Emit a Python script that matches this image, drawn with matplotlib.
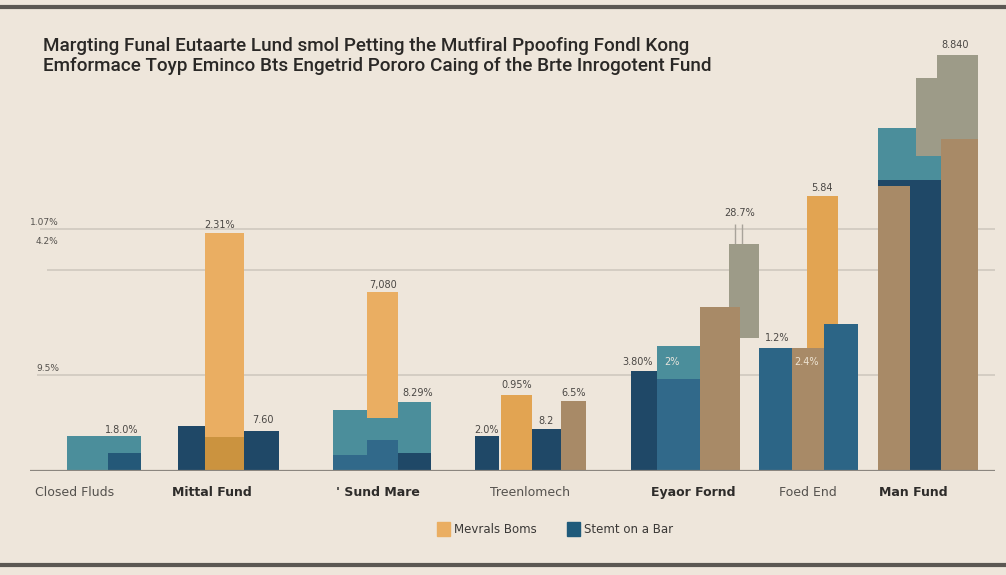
import matplotlib
matplotlib.use('Agg')
import matplotlib.pyplot as plt
from matplotlib.lines import Line2D
from matplotlib.patches import Patch

# --- data ---
categories = ['Closed Fluds', 'Mittal Fund', "' Sund Mare", 'Treenlomech',
              'Eyaor Fornd', 'Foed End', 'Man Fund']

bar_group = [0, 0,
             1, 1, 1, 1,
             2, 2, 2, 2, 2, 2, 2,
             3, 3, 3, 3,
             4, 4, 4, 4, 4,
             5, 5, 5, 5,
             6, 6, 6, 6, 6, 6]
bar_bottom = [0, 0,
              0, 0, 0, 0,
              0, 0, 11.8, 0, 0, 0, 0,
              0, 0, 0, 0,
              29.6, 0, 0, 0, 0,
              0, 0, 0, 0,
              0, 70.0, 70.0, 0, 0, 0]
bar_top = [7.8, 4.0,
           10.0, 52.9, 7.6, 8.9,
           13.6, 11.8, 39.8, 15.3, 3.6, 6.9, 4.0,
           7.8, 16.9, 9.3, 15.6,
           50.4, 22.2, 27.8, 20.4, 36.4,
           61.1, 27.3, 27.3, 32.7,
           76.2, 87.3, 92.4, 64.7, 63.3, 73.8]
bar_tone = ['teal', 'navy2',
            'navy', 'orange', 'orange_dk', 'navy',
            'teal', 'teal', 'orange', 'teal', 'teal_dk', 'teal_dk', 'navy',
            'navy', 'orange2', 'navy', 'brown',
            'sage', 'navy', 'teal', 'teal_dk', 'brown',
            'orange2', 'blue', 'brown', 'blue',
            'teal', 'sage', 'sage', 'navy', 'brown', 'brown']

label_text = ['1.8.0%', '2.31%', '7.60', '7,080', '8.29%', '2.0%', '0.95%', '8.2',
              '6.5%', '3.80%', '2%', '28.7%', '1.2%', '5.84', '2.4%', '8.840']
label_group = [0, 1, 1, 2, 2, 3, 3, 3, 3, 4, 4, 4, 5, 5, 5, 6]
label_value = [9.1, 54.7, 11.3, 41.3, 17.3, 9.1, 19.1, 11.1, 17.3,
               24.2, 24.2, 57.3, 29.6, 62.9, 24.2, 94.7]

axis_text = ['1.07%', '4.2%', '9.5%']
axis_value = [55.3, 50.9, 22.7]
grid_values = [53.8, 44.7, 21.3]
whisker_range = [50.4, 54.9]

title = ("Margting Funal Eutaarte Lund smol Petting the Mutfiral Ppoofing Fondl Kong\n"
         "Emformace Toyp Eminco Bts Engetrid Pororo Caing of the Brte Inrogotent Fund")
legend_labels = ['Mevrals Boms', 'Stemt on a Bar']

# --- layout / style ---
BG = '#EEE6DB'
TONES = {
    'navy': '#1F4867', 'navy2': '#245878', 'teal': '#4B8E9B', 'teal_dk': '#31698A',
    'blue': '#2C6586', 'orange': '#EAAE62', 'orange2': '#E2A452',
    'orange_dk': '#CB933F', 'brown': '#A88A67', 'sage': '#9D9B88',
}
group_x = [75, 212, 378, 530, 693, 808, 913]
bar_span = [(-8, 66), (33, 66),
            (-34, -7), (-7, 32), (-7, 32), (32, 67),
            (-45, -11), (-11, 20), (-11, 20), (20, 53), (-45, -11), (-11, 20), (20, 53),
            (-55, -31), (-29, 2), (2, 31), (31, 56),
            (36, 66), (-62, -31), (-36, 7), (-36, 7), (7, 47),
            (-1, 30), (-49, -16), (-16, 16), (16, 50),
            (-35, 28), (3, 65), (24, 65), (-35, 28), (-35, -3), (28, 65)]
label_dx = [47, 8, 51, 5, 40, -43, -13, 16, 44, -55, -21, 47, -31, 14, -1, 42]
label_color = ['#4A4744'] * len(label_text)
label_color[10] = '#E8E4DC'
label_color[14] = '#EDE3D2'
grid_start = [40, 47, 37]
axis_text_x = [30, 36, 36]

fig = plt.figure(figsize=(10.06, 5.75), dpi=100, facecolor=BG)
ax = fig.add_axes([0, 104 / 575, 1, 450 / 575])
ax.set_facecolor('none')
ax.set_xlim(0, 1006)
ax.set_ylim(0, 100)

for y, x0 in zip(grid_values, grid_start):
    ax.hlines(y, x0, 995, color='#CDC6BC', lw=1.1, zorder=0)

for g, (l, r), b, t, tone in zip(bar_group, bar_span, bar_bottom, bar_top, bar_tone):
    ax.bar(group_x[g] + l, t - b, bottom=b, width=r - l, align='edge',
           color=TONES[tone], linewidth=0, zorder=2)

# thin whisker lines above the sage bar
ax.vlines([group_x[4] + 42, group_x[4] + 49], whisker_range[0], whisker_range[1],
          color='#A8A39A', lw=1, zorder=1)

ax.hlines(0, 30, 995, color='#8B867F', lw=1.6, zorder=5)

for txt, g, dx, v, c in zip(label_text, label_group, label_dx, label_value, label_color):
    ax.text(group_x[g] + dx, v, txt, ha='center', va='center', fontsize=7,
            color=c, zorder=6)

for txt, x, v in zip(axis_text, axis_text_x, axis_value):
    ax.text(x, v, txt, ha='left', va='center', fontsize=6.5, color='#55524E')

ax.set_xticks(group_x)
ax.set_xticklabels(categories, fontsize=9)
ax.tick_params(axis='x', length=0, pad=11)
ax.set_yticks([])
for i, lab in enumerate(ax.get_xticklabels()):
    if i in (1, 2, 4, 6):
        lab.set_fontweight('bold')
        lab.set_color('#2E2C2A')
    else:
        lab.set_color('#55524E')
for s in ax.spines.values():
    s.set_visible(False)

fig.text(43 / 1006, 1 - 56 / 575, title, fontsize=13.6, color='#2A2826',
         family=['Roboto', 'DejaVu Sans'], fontweight='medium',
         ha='left', va='center', linespacing=1.15)

handles = [Patch(color=TONES['orange'], label=legend_labels[0]),
           Patch(color='#1F5A7A', label=legend_labels[1])]
fig.legend(handles=handles, loc='center', bbox_to_anchor=(555 / 1006, 1 - 529 / 575),
           ncol=2, frameon=False, fontsize=8.5, handlelength=1.1, handleheight=1.4,
           handletextpad=0.4, columnspacing=2.5, labelcolor='#3A3836')

fig.add_artist(Line2D([0, 1], [1 - 7 / 575] * 2, transform=fig.transFigure,
                      color='#5C5853', lw=3))
fig.add_artist(Line2D([0, 1], [1 - 565 / 575] * 2, transform=fig.transFigure,
                      color='#5C5853', lw=3))

plt.savefig('out.png', dpi=100, facecolor=BG)
plt.close()
